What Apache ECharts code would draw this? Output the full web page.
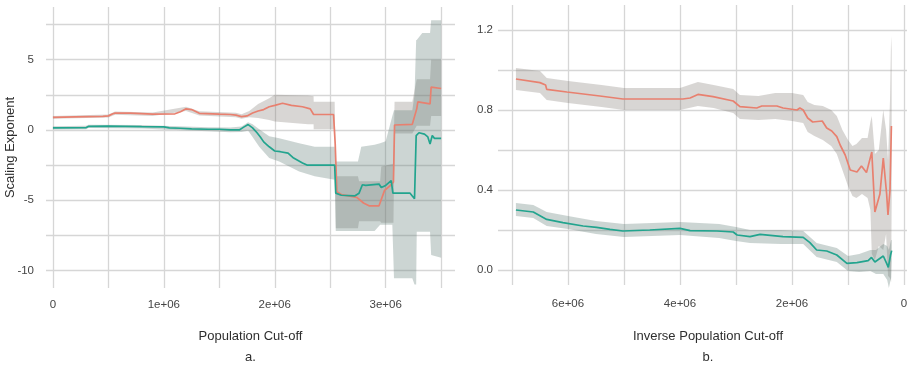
<!DOCTYPE html>
<html>
<head>
<meta charset="utf-8">
<script src="https://cdn.jsdelivr.net/npm/echarts@6/dist/echarts.min.js"></script>
<style>
html,body{margin:0;padding:0;background:#fff;overflow:hidden;}
#chart{width:907px;height:366px;}
</style>
</head>
<body>
<div id="chart"></div>
<script>
// ---------- Panel a: Population Cut-off ----------
const leftXTicks = [0, 1000000, 2000000, 3000000];
const leftYTicks = [-10, -5, 0, 5];

// [cut-off, exponent]
const leftRedLine = [[0,0.90],[200000,0.93],[450000,0.97],[500000,1.00],[540000,1.15],[560000,1.20],[700000,1.20],[900000,1.12],[1100000,1.15],[1150000,1.30],[1200000,1.50],[1250000,1.45],[1320000,1.18],[1500000,1.12],[1600000,1.10],[1650000,1.05],[1700000,0.95],[1750000,1.00],[1800000,1.20],[1850000,1.35],[1900000,1.45],[1950000,1.65],[2000000,1.75],[2070000,1.90],[2150000,1.75],[2250000,1.65],[2320000,1.50],[2350000,1.10],[2530000,1.10],[2545000,-1.00],[2560000,-4.40],[2600000,-4.60],[2740000,-4.80],[2800000,-5.20],[2850000,-5.40],[2940000,-5.40],[2990000,-4.30],[3050000,-3.90],[3070000,-3.70],[3080000,0.35],[3240000,0.40],[3280000,1.50],[3290000,2.00],[3400000,1.85],[3410000,3.05],[3500000,2.95]];
// [cut-off, lower, upper]
const leftRedBand = [[0,0.80,1.00],[500000,0.88,1.10],[560000,1.08,1.32],[900000,1.00,1.24],[1200000,1.35,1.65],[1320000,1.03,1.33],[1650000,0.90,1.22],[1700000,0.80,1.12],[1770000,0.90,1.35],[1850000,0.85,1.85],[1950000,0.70,2.25],[2000000,0.60,2.50],[2300000,0.40,2.45],[2350000,0.40,2.40],[2351000,0.05,2.00],[2540000,0.05,2.00],[2550000,-7.00,-3.30],[2750000,-7.00,-3.30],[2760000,-6.50,-3.65],[2950000,-6.50,-3.65],[2960000,-6.60,-2.60],[3070000,-6.60,-2.40],[3080000,-0.25,2.00],[3240000,-0.25,2.00],[3280000,0.30,3.60],[3400000,0.30,3.60],[3410000,1.00,5.00],[3500000,1.00,5.00]];
const leftTealLine = [[0,0.15],[300000,0.17],[320000,0.25],[500000,0.27],[800000,0.23],[1000000,0.22],[1050000,0.15],[1150000,0.12],[1250000,0.08],[1400000,0.05],[1500000,0.05],[1600000,0.00],[1680000,0.00],[1720000,0.20],[1760000,0.38],[1800000,0.15],[1840000,-0.20],[1870000,-0.50],[1900000,-0.85],[1950000,-1.20],[2000000,-1.50],[2050000,-1.55],[2120000,-1.65],[2170000,-2.00],[2250000,-2.35],[2290000,-2.50],[2540000,-2.50],[2550000,-4.50],[2600000,-4.65],[2720000,-4.70],[2760000,-4.50],[2790000,-3.90],[2820000,-3.95],[2940000,-3.85],[2960000,-4.10],[3000000,-3.95],[3050000,-3.60],[3065000,-4.50],[3220000,-4.50],[3260000,-4.90],[3275000,-0.40],[3300000,-0.20],[3350000,-0.30],[3380000,-0.50],[3400000,-1.00],[3420000,-0.40],[3440000,-0.60],[3500000,-0.60]];
const leftTealBand = [[0,0.03,0.27],[300000,0.05,0.29],[320000,0.13,0.37],[800000,0.11,0.35],[1050000,0.02,0.28],[1400000,-0.10,0.20],[1600000,-0.17,0.17],[1700000,-0.15,0.25],[1760000,-0.05,0.55],[1800000,-0.50,0.40],[1860000,-1.20,0.05],[1950000,-2.00,-0.45],[2040000,-2.25,-0.60],[2220000,-2.95,-0.95],[2360000,-3.30,-1.20],[2540000,-3.55,-1.20],[2550000,-7.20,-2.25],[2750000,-7.20,-2.25],[2780000,-7.20,-1.20],[2900000,-7.20,-1.05],[2950000,-6.75,-0.95],[3000000,-6.75,-0.80],[3060000,-6.75,1.00],[3075000,-10.55,1.40],[3240000,-10.55,1.40],[3260000,-11.00,2.50],[3275000,-11.00,6.40],[3280000,-7.25,6.40],[3330000,-7.25,6.90],[3400000,-7.25,6.90],[3410000,-8.90,7.80],[3500000,-9.10,7.80]];

// ---------- Panel b: Inverse Population Cut-off ----------
const rightXTicks = [0, 2000000, 4000000, 6000000];
const rightYTicks = [0.0, 0.4, 0.8, 1.2];

const rightRedLine = [[6930000,0.955],[6500000,0.937],[6400000,0.925],[6380000,0.903],[6020000,0.89],[5430000,0.87],[5020000,0.855],[3950000,0.855],[3820000,0.86],[3680000,0.878],[3410000,0.867],[3050000,0.845],[2930000,0.817],[2630000,0.81],[2540000,0.82],[2270000,0.82],[2160000,0.81],[1910000,0.80],[1860000,0.81],[1800000,0.80],[1720000,0.76],[1630000,0.74],[1460000,0.745],[1380000,0.71],[1290000,0.695],[1200000,0.667],[1140000,0.625],[1050000,0.575],[960000,0.50],[840000,0.49],[760000,0.52],[670000,0.487],[575000,0.59],[520000,0.29],[490000,0.29],[430000,0.38],[370000,0.56],[310000,0.38],[286000,0.275],[250000,0.40],[225000,0.72]];
const rightRedBand = [[6930000,0.90,1.01],[6500000,0.885,0.995],[6380000,0.85,0.96],[6000000,0.835,0.945],[5400000,0.815,0.925],[5000000,0.80,0.91],[4000000,0.80,0.91],[3680000,0.82,0.94],[3400000,0.81,0.925],[3050000,0.785,0.905],[2930000,0.755,0.875],[2600000,0.75,0.87],[2300000,0.755,0.885],[2000000,0.745,0.885],[1800000,0.735,0.875],[1720000,0.69,0.84],[1600000,0.67,0.825],[1450000,0.65,0.82],[1300000,0.62,0.80],[1200000,0.58,0.77],[1100000,0.50,0.70],[1000000,0.42,0.65],[920000,0.37,0.62],[850000,0.36,0.63],[750000,0.38,0.66],[650000,0.36,0.66],[600000,0.30,0.74],[575000,0.08,0.77],[520000,0.05,0.58],[450000,0.12,0.60],[370000,0.10,0.80],[320000,0.18,0.70],[285000,-0.03,0.55],[250000,-0.04,0.85],[230000,-0.06,1.17],[220000,0.35,1.10]];
const rightTealLine = [[6930000,0.30],[6620000,0.29],[6380000,0.253],[6090000,0.237],[5730000,0.22],[5490000,0.213],[5250000,0.203],[5020000,0.195],[4540000,0.20],[4000000,0.208],[3820000,0.197],[3340000,0.195],[3050000,0.19],[2980000,0.175],[2750000,0.167],[2570000,0.178],[2160000,0.167],[1800000,0.163],[1680000,0.137],[1560000,0.10],[1380000,0.095],[1200000,0.075],[1020000,0.033],[840000,0.037],[640000,0.047],[580000,0.063],[520000,0.04],[370000,0.07],[310000,0.033],[280000,0.013],[240000,0.075],[220000,0.097]];
const rightTealBand = [[6930000,0.27,0.335],[6620000,0.26,0.325],[6380000,0.22,0.29],[6000000,0.205,0.27],[5500000,0.18,0.245],[5000000,0.165,0.23],[4000000,0.175,0.24],[3300000,0.16,0.23],[3000000,0.145,0.215],[2750000,0.135,0.20],[2200000,0.13,0.20],[1800000,0.13,0.195],[1560000,0.065,0.135],[1200000,0.04,0.11],[1000000,-0.005,0.07],[800000,-0.01,0.08],[600000,-0.005,0.10],[500000,-0.02,0.10],[370000,-0.02,0.13],[300000,-0.05,0.12],[270000,-0.09,0.10],[230000,-0.04,0.15],[220000,0.04,0.15]];

// ---------- styling ----------
const RED = '#e8806f', TEAL = '#22a48e';
const RED_FILL = 'rgba(125,118,114,0.30)', TEAL_FILL = 'rgba(95,125,118,0.32)';
const GRID = '#d6d6d6', T = 'rgba(0,0,0,0)';
const FONT = 'Liberation Sans, Arial, Helvetica, sans-serif';
const LABEL = '#444', TITLE = '#2e2e2e';

function cyc(n, k) { const a = []; for (let i = 0; i < n; i++) a.push(i === k ? GRID : T); return a; }
function inList(v, list) { return list.some(t => Math.abs(t - v) < 1e-6 * Math.max(1, Math.abs(t))); }
function sciLabel(list) {
  return v => { if (!inList(v, list)) return ''; if (Math.abs(v) < 1) return '0'; return Math.round(v / 1e6) + 'e+06'; };
}

function band(xi, yi, rows, fill) {
  return {
    type: 'custom', xAxisIndex: xi, yAxisIndex: yi, silent: true, animation: false,
    data: [[rows[0][0], rows[0][1]]],
    renderItem: function (params, api) {
      const pts = [];
      for (let i = 0; i < rows.length; i++) pts.push(api.coord([rows[i][0], rows[i][2]]));
      for (let i = rows.length - 1; i >= 0; i--) pts.push(api.coord([rows[i][0], rows[i][1]]));
      return { type: 'polygon', shape: { points: pts }, style: { fill: fill } };
    }
  };
}
function line(xi, yi, data, color) {
  return { type: 'line', xAxisIndex: xi, yAxisIndex: yi, data: data, showSymbol: false, silent: true,
    animation: false, lineStyle: { color: color, width: 1.7 }, itemStyle: { color: color } };
}

const chart = echarts.init(document.getElementById('chart'), null, { renderer: 'canvas' });
chart.setOption({
  backgroundColor: '#fff',
  animation: false,
  textStyle: { fontFamily: FONT },
  grid: [
    { left: 46, top: 7, width: 409, height: 281, outerBoundsMode: 'none', containLabel: false },
    { left: 498, top: 5, width: 420, height: 280, outerBoundsMode: 'none', containLabel: false }
  ],
  xAxis: [
    { gridIndex: 0, type: 'value', min: -62500, max: 3625000, interval: 62500,
      axisLine: { show: false }, axisTick: { show: false },
      splitLine: { show: true, lineStyle: { color: cyc(8, 1), width: 1.3 } },
      axisLabel: { formatter: sciLabel(leftXTicks), color: LABEL, fontSize: 11.5, margin: 11, fontFamily: FONT },
      name: 'Population Cut-off\na.', nameLocation: 'middle', nameGap: 38,
      nameTextStyle: { color: TITLE, fontSize: 13, lineHeight: 21, fontFamily: FONT } },
    { gridIndex: 1, type: 'value', inverse: true, min: -250000, max: 7250000, interval: 125000,
      axisLine: { show: false }, axisTick: { show: false },
      splitLine: { show: true, lineStyle: { color: cyc(8, 2), width: 1.3 } },
      axisLabel: { formatter: sciLabel(rightXTicks), color: LABEL, fontSize: 11.5, margin: 13, fontFamily: FONT },
      name: 'Inverse Population Cut-off\nb.', nameLocation: 'middle', nameGap: 41,
      nameTextStyle: { color: TITLE, fontSize: 13, lineHeight: 21, fontFamily: FONT } }
  ],
  yAxis: [
    { gridIndex: 0, type: 'value', min: -11.25, max: 8.75, interval: 1.25,
      axisLine: { show: false }, axisTick: { show: false },
      splitLine: { show: true, lineStyle: { color: cyc(2, 1), width: 1.3 } },
      axisLabel: { formatter: v => inList(v, leftYTicks) ? String(Math.round(v)) : '', color: LABEL, fontSize: 11.5, margin: 12, fontFamily: FONT },
      name: 'Scaling Exponent', nameLocation: 'middle', nameGap: 29, nameMoveOverlap: false,
      nameTextStyle: { color: TITLE, fontSize: 13, fontFamily: FONT } },
    { gridIndex: 1, type: 'value', min: -0.075, max: 1.325, interval: 0.025,
      axisLine: { show: false }, axisTick: { show: false },
      splitLine: { show: true, lineStyle: { color: cyc(8, 3), width: 1.3 } },
      axisLabel: { formatter: v => inList(v, rightYTicks) ? v.toFixed(1) : '', color: LABEL, fontSize: 11.5, margin: 5, fontFamily: FONT } }
  ],
  series: [
    band(0, 0, leftRedBand, RED_FILL),
    line(0, 0, leftRedLine, RED),
    band(0, 0, leftTealBand, TEAL_FILL),
    line(0, 0, leftTealLine, TEAL),
    band(1, 1, rightRedBand, RED_FILL),
    line(1, 1, rightRedLine, RED),
    band(1, 1, rightTealBand, TEAL_FILL),
    line(1, 1, rightTealLine, TEAL)
  ]
});
</script>
</body>
</html>
